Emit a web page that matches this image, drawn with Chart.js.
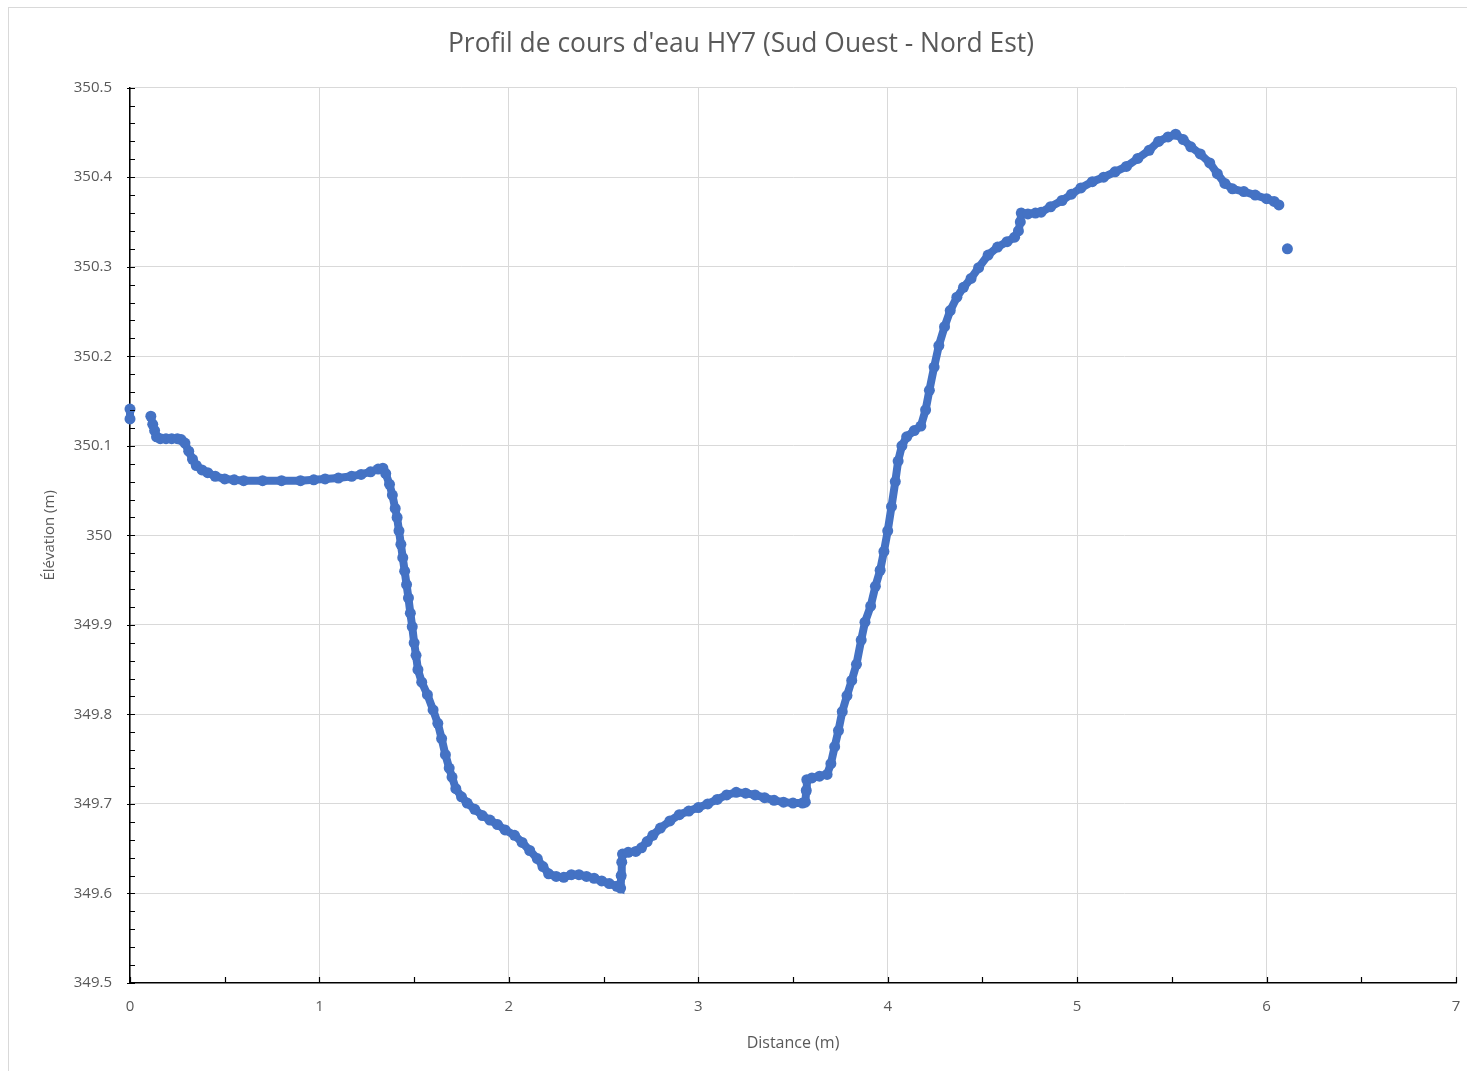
<!DOCTYPE html>
<html>
<head>
<meta charset="utf-8">
<script src="https://cdn.jsdelivr.net/npm/chart.js@4/dist/chart.umd.min.js"></script>
<style>
  html, body { margin: 0; padding: 0; background: #fff; }
  #wrap { width: 1467px; height: 1071px; }
</style>
</head>
<body>
<div id="wrap"><canvas id="chart"></canvas></div>
<script>
// Distance (m) / élévation (m); null breaks the trace
const distance = [
  0, 0, null,
  0.11, 0.12, 0.13, 0.14, 0.16, 0.19, 0.22, 0.25, 0.27, 0.29, 0.31, 0.33, 0.35, 0.38, 0.41, 0.45,
  0.50, 0.55, 0.60, 0.70, 0.80, 0.90, 0.97, 1.03, 1.10, 1.17, 1.22, 1.27, 1.31, 1.335, 1.35, 1.37,
  1.385, 1.40, 1.41, 1.42, 1.43, 1.44, 1.45, 1.46, 1.47, 1.48, 1.49, 1.50, 1.51, 1.52, 1.54, 1.57,
  1.60, 1.625, 1.645, 1.665, 1.685, 1.70, 1.72, 1.75, 1.78, 1.82, 1.86, 1.90, 1.94, 1.98, 2.03, 2.07,
  2.11, 2.15, 2.18, 2.21, 2.25, 2.29, 2.33, 2.37, 2.41, 2.45, 2.49, 2.53, 2.57, 2.59, 2.593, 2.596,
  2.60, 2.63, 2.67, 2.70, 2.73, 2.76, 2.80, 2.85, 2.90, 2.95, 3.00, 3.05, 3.10, 3.15, 3.20, 3.25,
  3.30, 3.35, 3.40, 3.45, 3.50, 3.55, 3.565, 3.57, 3.573, 3.60, 3.64, 3.68, 3.70, 3.72, 3.74, 3.76,
  3.785, 3.81, 3.835, 3.86, 3.88, 3.91, 3.935, 3.96, 3.98, 4.00, 4.02, 4.04, 4.055, 4.075, 4.10, 4.14,
  4.175, 4.20, 4.22, 4.245, 4.27, 4.30, 4.33, 4.365, 4.40, 4.44, 4.48, 4.53, 4.58, 4.63, 4.67, 4.69,
  4.70, 4.705, 4.74, 4.78, 4.81, 4.86, 4.92, 4.97, 5.02, 5.08, 5.14, 5.20, 5.26, 5.32, 5.38, 5.43,
  5.48, 5.52, 5.56, 5.60, 5.65, 5.70, 5.74, 5.78, 5.82, 5.88, 5.94, 6.00, 6.04, 6.065
];
const elevation = [
  350.141, 350.130, null,
  350.133, 350.124, 350.117, 350.110, 350.108, 350.108, 350.108, 350.108, 350.107, 350.103, 350.094, 350.085, 350.078, 350.073, 350.070, 350.066,
  350.063, 350.062, 350.061, 350.061, 350.061, 350.061, 350.062, 350.063, 350.064, 350.066, 350.068, 350.071, 350.074, 350.075, 350.069, 350.057,
  350.045, 350.030, 350.020, 350.005, 349.990, 349.975, 349.960, 349.945, 349.930, 349.913, 349.898, 349.880, 349.866, 349.850, 349.836, 349.822,
  349.805, 349.790, 349.773, 349.755, 349.740, 349.730, 349.717, 349.708, 349.701, 349.694, 349.687, 349.682, 349.677, 349.671, 349.665, 349.657,
  349.648, 349.639, 349.630, 349.622, 349.619, 349.618, 349.621, 349.621, 349.619, 349.617, 349.614, 349.611, 349.608, 349.606, 349.620, 349.635,
  349.644, 349.646, 349.647, 349.651, 349.658, 349.665, 349.673, 349.681, 349.688, 349.692, 349.696, 349.700, 349.705, 349.710, 349.713, 349.712,
  349.710, 349.707, 349.704, 349.702, 349.701, 349.701, 349.702, 349.715, 349.727, 349.729, 349.731, 349.733, 349.745, 349.764, 349.782, 349.803,
  349.821, 349.838, 349.856, 349.883, 349.903, 349.921, 349.943, 349.961, 349.982, 350.005, 350.032, 350.060, 350.083, 350.100, 350.110, 350.117,
  350.122, 350.140, 350.162, 350.188, 350.212, 350.233, 350.251, 350.266, 350.277, 350.287, 350.299, 350.313, 350.322, 350.328, 350.333, 350.340,
  350.350, 350.360, 350.359, 350.360, 350.361, 350.367, 350.374, 350.381, 350.388, 350.395, 350.400, 350.406, 350.412, 350.421, 350.430, 350.440,
  350.445, 350.448, 350.442, 350.434, 350.426, 350.416, 350.404, 350.393, 350.387, 350.384, 350.380, 350.376, 350.373, 350.369
];
// lone point after the end of the trace
const extraDistance = [6.11];
const extraElevation = [350.320];

const xTicks = [0, 1, 2, 3, 4, 5, 6, 7];
const yTicks = [349.5, 349.6, 349.7, 349.8, 349.9, 350, 350.1, 350.2, 350.3, 350.4, 350.5];

const blue = '#4472c4';
const textGrey = '#595959';
const gridGrey = '#d9d9d9';
const font = "'Open Sans', sans-serif";

const toPoints = (xs, ys) => xs.map((x, i) => ({ x: x, y: ys[i] }));

// inner tick marks: minor on y every 0.02, on x every 0.5
const minorTicks = {
  id: 'minorTicks',
  beforeDraw(chart) {
    const c = chart.ctx;
    c.save();
    c.fillStyle = '#fff';
    c.fillRect(0, 0, chart.width, chart.height);
    c.strokeStyle = gridGrey;
    c.lineWidth = 1;
    c.strokeRect(8.5, 7.5, chart.width + 20, chart.height + 20);
    c.restore();
  },
  afterDraw(chart) {
    const { ctx, scales: { x, y }, chartArea } = chart;
    ctx.save();
    ctx.strokeStyle = '#000';
    ctx.lineWidth = 1.2;
    ctx.beginPath();
    for (let i = 0; i <= 50; i++) {
      const py = Math.round(y.getPixelForValue(yTicks[0] + i * 0.02)) + 0.5;
      const major = i % 5 === 0;
      ctx.moveTo(chartArea.left - (major ? 3 : 0), py);
      ctx.lineTo(chartArea.left + 5, py);
    }
    for (let i = 0; i <= 14; i++) {
      const px = Math.round(x.getPixelForValue(i * 0.5)) + 0.5;
      ctx.moveTo(px, chartArea.bottom);
      ctx.lineTo(px, chartArea.bottom - 6);
    }
    ctx.stroke();
    ctx.restore();
  }
};

new Chart(document.getElementById('chart'), {
  type: 'scatter',
  data: {
    datasets: [{
      label: 'Profil',
      data: toPoints(distance, elevation),
      showLine: true,
      spanGaps: false,
      clip: false,
      borderColor: blue,
      borderWidth: 8,
      backgroundColor: blue,
      pointRadius: 5.5,
      pointBorderWidth: 0
    }, {
      label: 'Point isolé',
      data: toPoints(extraDistance, extraElevation),
      backgroundColor: blue,
      borderColor: blue,
      pointRadius: 5.5,
      pointBorderWidth: 0
    }]
  },
  options: {
    responsive: true,
    maintainAspectRatio: false,
    animation: false,
    layout: { padding: { left: 26, right: 11, top: 0, bottom: 0 } },
    plugins: {
      legend: { display: false },
      tooltip: { enabled: false },
      title: {
        display: true,
        text: "Profil de cours d'eau HY7 (Sud Ouest - Nord Est)",
        color: textGrey,
        font: { family: font, size: 26.4, weight: 'normal' },
        padding: { top: 29, bottom: 27 }
      }
    },
    scales: {
      x: {
        type: 'linear',
        min: xTicks[0],
        max: xTicks[xTicks.length - 1],
        afterBuildTicks: (s) => { s.ticks = xTicks.map(v => ({ value: v })); },
        afterFit: (s) => { s.height = 88; s.paddingLeft = 0; s.paddingRight = 0; },
        ticks: {
          color: textGrey,
          font: { family: font, size: 15 },
          padding: 15,
          maxRotation: 0
        },
        grid: { color: gridGrey, drawTicks: false },
        border: { color: '#000', width: 1.5 },
        title: {
          display: true,
          text: 'Distance (m)',
          color: textGrey,
          font: { family: font, size: 16 },
          padding: { top: 0, bottom: 18 }
        }
      },
      y: {
        type: 'linear',
        min: yTicks[0],
        max: yTicks[yTicks.length - 1],
        afterBuildTicks: (s) => { s.ticks = yTicks.map(v => ({ value: v })); },
        afterFit: (s) => { s.width = 104; },
        ticks: {
          color: textGrey,
          font: { family: font, size: 15 },
          padding: 18,
          callback: (v) => String(Math.round(v * 10) / 10)
        },
        grid: { color: gridGrey, drawTicks: false },
        border: { color: '#000', width: 1.5 },
        title: {
          display: true,
          text: 'Élévation (m)',
          color: textGrey,
          font: { family: font, size: 15 },
          padding: { top: 15, bottom: 0 }
        }
      }
    }
  },
  plugins: [minorTicks]
});
</script>
</body>
</html>
